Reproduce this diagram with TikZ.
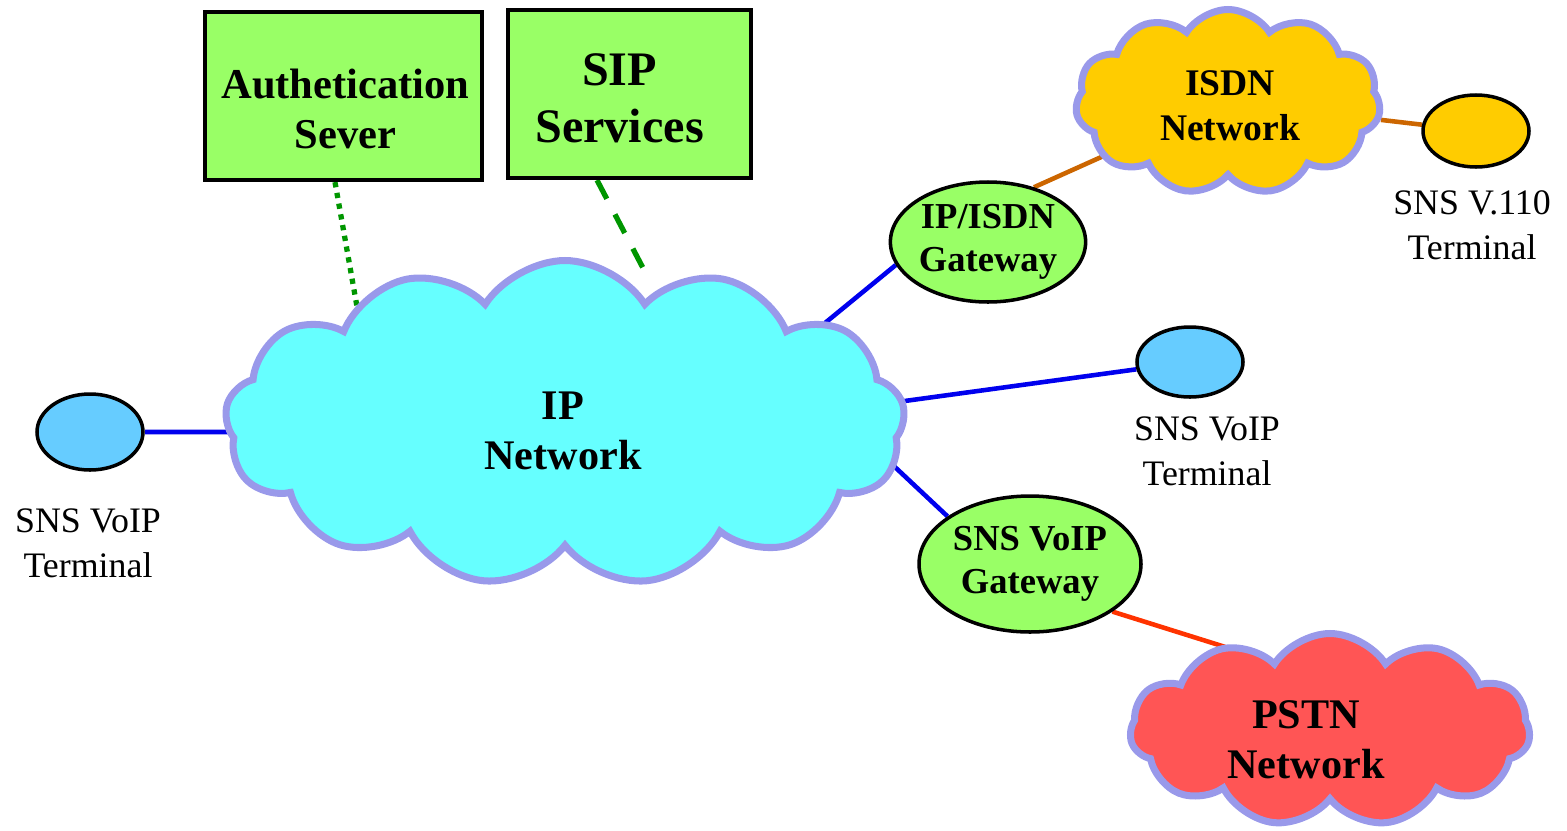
\documentclass[tikz,border=0pt]{standalone}
\usepackage{fontspec}
\setmainfont{Liberation Serif}
\usetikzlibrary{shapes.symbols,shapes.geometric,backgrounds}

\definecolor{boxgreen}{RGB}{153,255,102}
\definecolor{ipcyan}{RGB}{102,255,255}
\definecolor{cloudrim}{RGB}{153,153,234}
\definecolor{termblue}{RGB}{102,204,255}
\definecolor{isdnyellow}{RGB}{255,204,0}
\definecolor{pstnred}{RGB}{255,85,85}
\definecolor{linkbrown}{RGB}{204,102,0}
\definecolor{linkred}{RGB}{255,51,0}
\definecolor{linkblue}{RGB}{0,0,238}
\definecolor{linkgreen}{RGB}{0,150,0}

\tikzset{
  serverbox/.style={draw=black, line width=1.2pt, fill=boxgreen, rectangle, inner sep=0pt},
  boldtext/.style={align=center, inner sep=0pt, font=\bfseries},
  netcloud/.style={cloud, draw=cloudrim, line width=2pt, cloud puff arc=115,
    cloud ignores aspect, inner sep=0pt},
  gateway/.style={ellipse, draw=black, line width=1pt, fill=boxgreen,
    inner sep=0pt, align=center, font=\fontsize{10.4}{12.3}\selectfont\bfseries},
  terminal/.style={ellipse, draw=black, line width=1pt, inner sep=0pt},
  termlabel/.style={align=center, font=\fontsize{10.2}{12.8}\selectfont},
  iplink/.style={draw=linkblue, line width=1.3pt},
}

\begin{document}
\begin{tikzpicture}
\useasboundingbox (0,0) rectangle (15.67,8.30);

% servers
\node[serverbox, minimum width=2.77cm, minimum height=1.68cm] (auth) at (3.435,7.34) {};
\node[boldtext, font=\fontsize{12.1}{14.2}\selectfont\bfseries]
  (authtext) at ([shift={(0.02,-0.13)}]auth.center) {Authetication\\Sever};
\node[serverbox, minimum width=2.43cm, minimum height=1.68cm] (sip) at (6.295,7.36) {};
\node[boldtext, font=\fontsize{13.7}{16.2}\selectfont\bfseries]
  (siptext) at ([shift={(-0.10,-0.04)}]sip.center) {SIP\\Services};

% networks
\node[netcloud, fill=ipcyan, cloud puffs=13, minimum width=6.8cm, minimum height=3.25cm]
  (ip) at (5.65,4.07) {};
\node[boldtext, font=\fontsize{12}{14.2}\selectfont\bfseries]
  (iptext) at ([shift={(-0.02,-0.08)}]ip.center) {IP\\Network};
\node[netcloud, fill=isdnyellow, cloud puffs=11, minimum width=3.05cm, minimum height=1.85cm]
  (isdn) at (12.28,7.28) {};
\node[boldtext, font=\fontsize{10.7}{12.8}\selectfont\bfseries]
  (isdntext) at ([shift={(0.02,-0.04)}]isdn.center) {ISDN\\Network};
\node[netcloud, fill=pstnred, cloud puffs=11, minimum width=4.0cm, minimum height=1.93cm]
  (pstn) at (13.30,1.00) {};
\node[boldtext, font=\fontsize{12}{14.2}\selectfont\bfseries]
  (pstntext) at ([shift={(-0.24,-0.10)}]pstn.center) {PSTN\\Network};

% gateways
\node[gateway, minimum width=1.92cm, minimum height=1.20cm] (gwisdn) at (9.88,5.88) {IP/ISDN\\Gateway};
\node[gateway, minimum width=2.22cm, minimum height=1.36cm] (gwvoip) at (10.30,2.66) {SNS VoIP\\Gateway};

% terminals
\node[terminal, fill=termblue, minimum width=1.06cm, minimum height=0.76cm] (termL) at (0.90,3.98) {};
\node[terminal, fill=termblue, minimum width=1.06cm, minimum height=0.70cm] (termR) at (11.90,4.68) {};
\node[terminal, fill=isdnyellow, minimum width=1.06cm, minimum height=0.72cm] (termV) at (14.76,6.99) {};

\node[termlabel] (labL) at (0.88,2.87) {SNS VoIP\\Terminal};
\node[termlabel] (labR) at (12.07,3.79) {SNS VoIP\\Terminal};
\node[termlabel] (labV) at (14.72,6.05) {SNS V.110\\Terminal};

% links, kept behind the shapes
\begin{scope}[on background layer]
  \draw[draw=linkgreen, line width=1.5pt, dash pattern=on 1.5pt off 1.6pt]
    ([xshift=-0.085cm]auth.south) -- ([shift={(-2.06,1.05)}]ip.center);
  \draw[draw=linkgreen, line width=1.5pt, dash pattern=on 6pt off 5pt]
    ([xshift=-0.325cm]sip.south) -- ([shift={(0.78,1.55)}]ip.center);
  \draw[iplink] (termL) -- ([shift={(-3.2,-0.09)}]ip.center);
  \draw[iplink] ([shift={(2.60,1.00)}]ip.center) -- (gwisdn.194);
  \draw[iplink] ([shift={(3.25,0.20)}]ip.center) -- (termR);
  \draw[iplink] ([shift={(3.15,-0.30)}]ip.center) -- (gwvoip.150);
  \draw[draw=linkbrown, line width=1.3pt] (gwisdn.50) -- ([shift={(-1.2,-0.52)}]isdn.center);
  \draw[draw=linkbrown, line width=1.3pt] (isdn) -- (termV);
  \draw[draw=linkred, line width=1.3pt] (gwvoip.330) -- ([shift={(-0.76,0.74)}]pstn.center);
\end{scope}
\end{tikzpicture}
\end{document}
